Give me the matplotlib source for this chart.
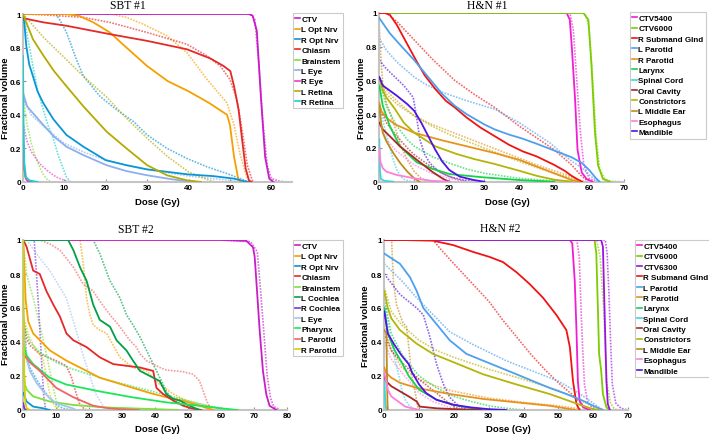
import matplotlib
matplotlib.use("Agg")
import matplotlib.pyplot as plt
from matplotlib.ticker import FuncFormatter
from matplotlib.lines import Line2D

# ---------------- SBT #1 ----------------
sbt1_names = ["CTV", "L Opt Nrv", "R Opt Nrv", "Chiasm", "Brainstem", "L Eye", "R Eye", "L Retina", "R Retina"]
sbt1_colors = ["#c81ec8", "#f5a000", "#0a96d6", "#e62828", "#7ee03c", "#8cb0ee", "#f03cc8", "#b4aa00", "#14d2d2"]
sbt1_solid = {
    "CTV": ([0, 54.5, 55.5, 56.5, 57.5, 58.5, 59.5, 60.5], [1, 1, 0.99, 0.9, 0.5, 0.15, 0.02, 0]),
    "L Opt Nrv": ([0, 10, 13.5, 17, 21, 25, 30, 35, 40, 45, 49.3, 50, 51, 52, 52.6], [1, 1, 0.99, 0.95, 0.89, 0.8, 0.69, 0.6, 0.54, 0.47, 0.4, 0.34, 0.15, 0.02, 0]),
    "R Opt Nrv": ([0, 0.3, 0.8, 1.5, 2.4, 3.5, 4.9, 7.3, 10.5, 14.6, 20, 25, 30, 35, 40, 46, 51, 53.4, 54.5], [1, 0.95, 0.81, 0.7, 0.63, 0.54, 0.47, 0.375, 0.28, 0.21, 0.13, 0.1, 0.075, 0.06, 0.045, 0.035, 0.02, 0.005, 0]),
    "Chiasm": ([0, 5, 10.5, 21, 30, 39.6, 45.3, 48.5, 50.1, 51, 52.1, 53, 53.8, 54.6, 55.2], [0.975, 0.95, 0.93, 0.88, 0.84, 0.79, 0.735, 0.69, 0.66, 0.57, 0.43, 0.24, 0.08, 0.01, 0]),
    "Brainstem": ([0, 0.2, 0.5, 1, 2], [0.2, 0.08, 0.03, 0.01, 0]),
    "L Eye": ([0, 1, 2.4, 4.9, 7.5, 10.5, 14.6, 20.2, 25, 30, 35, 38, 42], [0.53, 0.45, 0.41, 0.34, 0.27, 0.21, 0.16, 0.1, 0.065, 0.04, 0.02, 0.01, 0]),
    "R Eye": ([0, 0.3, 0.7, 1.2, 2.5], [0.3, 0.08, 0.02, 0.005, 0]),
    "L Retina": ([0, 2.4, 5, 7.5, 10.5, 14.6, 20.2, 25, 30, 34.8, 39.6, 43], [1, 0.85, 0.75, 0.66, 0.57, 0.45, 0.3, 0.2, 0.1, 0.04, 0.01, 0]),
    "R Retina": ([0, 0.1, 0.3, 0.7, 1.5, 3.5], [0.75, 0.4, 0.12, 0.03, 0.01, 0]),
}
sbt1_dotted = {
    "CTV": ([0, 55, 56, 57, 58, 59, 60, 62, 63.5], [1, 1, 0.97, 0.7, 0.35, 0.1, 0.02, 0.005, 0]),
    "L Opt Nrv": ([0, 21, 25, 29, 34.8, 39.6, 44.5, 49.3, 51, 52.5, 54.2, 55], [1, 1, 0.98, 0.94, 0.87, 0.77, 0.61, 0.47, 0.34, 0.16, 0.02, 0]),
    "R Opt Nrv": ([0, 8, 9, 10.5, 12.9, 14.6, 18.6, 22.6, 26.7, 30, 34.8, 39.6, 44.5, 49.3, 52.5, 54.5], [1, 1, 0.96, 0.89, 0.73, 0.63, 0.51, 0.43, 0.36, 0.28, 0.2, 0.14, 0.09, 0.05, 0.02, 0]),
    "Chiasm": ([0, 5, 14.5, 21, 30, 39.6, 44.5, 47.7, 50, 51.7, 53, 54.2, 55.4, 56.2], [1, 0.995, 0.98, 0.95, 0.89, 0.82, 0.75, 0.69, 0.61, 0.49, 0.3, 0.1, 0.01, 0]),
    "Brainstem": ([0, 0.5, 1, 2, 3, 4, 5, 6, 7], [0.55, 0.42, 0.34, 0.23, 0.15, 0.09, 0.04, 0.01, 0]),
    "L Eye": ([0, 2, 5, 10, 15, 20, 25, 30, 40, 50, 54], [0.5, 0.4, 0.33, 0.23, 0.175, 0.13, 0.1, 0.075, 0.035, 0.01, 0]),
    "R Eye": ([0, 1, 2, 4, 6, 8, 10, 11.5], [0.35, 0.24, 0.18, 0.11, 0.065, 0.03, 0.01, 0]),
    "L Retina": ([0, 5, 10, 15, 20, 25, 30, 35, 40, 45, 46.5], [1, 0.86, 0.74, 0.62, 0.51, 0.38, 0.26, 0.15, 0.06, 0.01, 0]),
    "R Retina": ([0, 0.5, 1.2, 2.4, 3.5, 4.9, 6, 7.3, 8.5, 9.7, 10.5, 11.5], [1, 0.95, 0.85, 0.69, 0.55, 0.43, 0.34, 0.26, 0.16, 0.08, 0.03, 0]),
}

# ---------------- H&N #1 ----------------
hn1_names = ["CTV5400", "CTV6000", "R Submand Glnd", "L Parotid", "R Parotid", "Larynx", "Spinal Cord", "Oral Cavity", "Constrictors", "L Middle Ear", "Esophagus", "Mandible"]
hn1_colors = ["#f01ed2", "#7ccd00", "#f01414", "#4ea0ee", "#e8921e", "#14d24a", "#3cd6d6", "#a82828", "#b4b40a", "#c08c1e", "#ff7ede", "#5014e6"]
hn1_solid = {
    "CTV5400": ([0, 53.6, 54.5, 55.1, 56, 56.7, 57.9, 59.3, 61], [1, 1, 0.96, 0.79, 0.49, 0.19, 0.055, 0.016, 0]),
    "CTV6000": ([0, 58.4, 59.8, 60.7, 61.7, 62.6, 64, 66], [1, 1, 0.96, 0.69, 0.29, 0.095, 0.016, 0]),
    "R Submand Glnd": ([0, 1.5, 3, 5, 8.4, 10.5, 13, 16, 19, 21.6, 25, 29, 33, 37, 41, 45, 50, 53, 55, 57, 58], [1, 1, 0.99, 0.93, 0.8, 0.72, 0.63, 0.55, 0.48, 0.44, 0.38, 0.32, 0.27, 0.22, 0.18, 0.15, 0.1, 0.065, 0.035, 0.01, 0]),
    "L Parotid": ([0, 3, 6, 10, 14, 18, 21.6, 25, 30, 33, 37, 41, 45, 50, 55, 58, 60, 62, 63], [0.97, 0.88, 0.81, 0.72, 0.62, 0.52, 0.45, 0.4, 0.34, 0.31, 0.28, 0.255, 0.225, 0.185, 0.145, 0.11, 0.07, 0.02, 0]),
    "R Parotid": ([0, 0.5, 2, 4.5, 10, 18, 25, 33, 40, 45, 50, 55, 57], [0.47, 0.42, 0.38, 0.34, 0.29, 0.245, 0.21, 0.17, 0.13, 0.09, 0.05, 0.01, 0]),
    "Larynx": ([0, 1, 3, 5.9, 10.7, 15.4, 20.2, 29.7, 40, 50], [0.57, 0.45, 0.33, 0.21, 0.115, 0.075, 0.045, 0.026, 0.01, 0]),
    "Spinal Cord": ([0, 0.2, 0.5, 1.5, 4], [0.25, 0.06, 0.015, 0.005, 0]),
    "Oral Cavity": ([0, 1, 3, 5.9, 10.7, 15.4, 18.3, 20], [0.35, 0.31, 0.27, 0.21, 0.13, 0.055, 0.016, 0]),
    "Constrictors": ([0, 1, 2, 4.5, 7, 10, 16, 22, 27, 33, 40, 45, 50, 55], [0.62, 0.54, 0.5, 0.43, 0.35, 0.29, 0.21, 0.165, 0.135, 0.105, 0.065, 0.035, 0.012, 0]),
    "L Middle Ear": ([0, 0.5, 1, 2, 4, 6, 8, 10, 11.5], [0.45, 0.35, 0.29, 0.24, 0.17, 0.11, 0.06, 0.02, 0]),
    "Esophagus": ([0, 0.3, 1, 2, 5, 10, 15, 20], [0.2, 0.12, 0.08, 0.06, 0.04, 0.02, 0.005, 0]),
    "Mandible": ([0, 1, 3, 5, 8, 10, 12, 14, 16, 18, 20, 23, 27, 30], [0.62, 0.57, 0.54, 0.51, 0.46, 0.42, 0.35, 0.27, 0.19, 0.12, 0.07, 0.03, 0.01, 0]),
}
hn1_dotted = {
    "CTV5400": ([0, 54.5, 55.5, 56.5, 57.5, 58.5, 60, 62], [1, 1, 0.9, 0.6, 0.3, 0.1, 0.02, 0]),
    "CTV6000": ([0, 58.8, 60, 61, 62, 63, 64.5, 66, 69], [1, 1, 0.92, 0.62, 0.27, 0.08, 0.015, 0.004, 0]),
    "R Submand Glnd": ([0, 2, 5, 10, 15, 21.6, 27, 33, 40, 45, 50, 55, 58, 60], [1, 1, 0.95, 0.84, 0.73, 0.6, 0.52, 0.44, 0.33, 0.26, 0.19, 0.1, 0.03, 0]),
    "L Parotid": ([0, 2, 5, 10, 13, 18, 25, 33, 40, 48.8, 54.5, 58.3, 61.2, 63], [0.85, 0.78, 0.71, 0.62, 0.58, 0.53, 0.48, 0.43, 0.35, 0.23, 0.13, 0.075, 0.02, 0]),
    "R Parotid": ([0, 2, 5, 10, 15, 20, 25, 30, 35, 40, 45, 50, 55, 58, 60], [0.6, 0.52, 0.46, 0.39, 0.34, 0.3, 0.26, 0.22, 0.18, 0.14, 0.1, 0.065, 0.03, 0.005, 0]),
    "Larynx": ([0, 2, 5, 8, 10, 15, 20, 25, 30, 40, 50, 55], [0.6, 0.45, 0.33, 0.25, 0.21, 0.15, 0.11, 0.075, 0.05, 0.02, 0.005, 0]),
    "Spinal Cord": ([0, 1, 2, 3, 4, 5, 6, 7, 8.5, 10], [0.45, 0.36, 0.28, 0.2, 0.13, 0.07, 0.035, 0.015, 0.004, 0]),
    "Oral Cavity": ([0, 2, 5, 8, 10, 14, 18, 22, 25], [0.45, 0.35, 0.27, 0.2, 0.16, 0.1, 0.05, 0.015, 0]),
    "Constrictors": ([0, 3, 6, 10, 15, 20, 25, 30, 35, 40, 45, 50, 55, 58], [0.6, 0.52, 0.46, 0.39, 0.33, 0.28, 0.24, 0.2, 0.16, 0.12, 0.085, 0.05, 0.02, 0]),
    "L Middle Ear": ([0, 0.5, 1, 2, 3, 4, 5, 6, 8, 10, 12, 14], [0.92, 0.72, 0.58, 0.47, 0.41, 0.35, 0.29, 0.22, 0.13, 0.06, 0.02, 0]),
    "Esophagus": ([0, 2, 5, 10, 15, 20, 25], [0.35, 0.25, 0.18, 0.1, 0.05, 0.02, 0]),
    "Mandible": ([0, 2, 5, 7, 9.7, 10.7, 11.6, 13, 14.5, 17, 20, 24, 28], [0.72, 0.67, 0.61, 0.57, 0.5, 0.38, 0.25, 0.16, 0.11, 0.06, 0.03, 0.01, 0]),
}

# ---------------- SBT #2 ----------------
sbt2_names = ["CTV", "L Opt Nrv", "R Opt Nrv", "Chiasm", "Brainstem", "L Cochlea", "R Cochlea", "L Eye", "Pharynx", "L Parotid", "R Parotid"]
sbt2_colors = ["#c81ec8", "#f5a000", "#0a96d6", "#e62828", "#7ee03c", "#00a046", "#7a32e0", "#a6c4f2", "#1ee65a", "#f06464", "#d2d200"]
sbt2_solid = {
    "CTV": ([0, 60, 67.7, 68.7, 69.7, 70.2, 70.7, 71.7, 72.7, 73.7, 74.7, 76.8], [1, 1, 0.995, 0.976, 0.957, 0.9, 0.76, 0.47, 0.23, 0.094, 0.025, 0]),
    "L Opt Nrv": ([0, 0.3, 0.7, 1.5, 3, 8.1, 13.1, 18.2, 23.2, 28.3, 33.3, 38.4, 43.4, 48.5, 53.5, 57.6], [1, 0.85, 0.65, 0.52, 0.45, 0.35, 0.29, 0.24, 0.19, 0.16, 0.13, 0.1, 0.075, 0.055, 0.025, 0]),
    "R Opt Nrv": ([0, 1, 3, 6, 8], [0.1, 0.05, 0.02, 0.01, 0]),
    "Chiasm": ([0, 1, 3, 5, 7, 9.1, 11.1, 13.1, 15.2, 19.2, 23.2, 27.3, 31.3, 35.4, 39.4, 40.4, 42.4, 45.5, 48.5, 51, 54], [1, 0.96, 0.82, 0.8, 0.7, 0.62, 0.55, 0.45, 0.41, 0.37, 0.31, 0.27, 0.26, 0.25, 0.23, 0.13, 0.094, 0.055, 0.025, 0.01, 0]),
    "Brainstem": ([0, 0.5, 1, 3, 8, 15, 25, 40, 47], [0.25, 0.15, 0.12, 0.08, 0.05, 0.03, 0.015, 0.005, 0]),
    "L Cochlea": ([0, 13.6, 15.2, 17.2, 19.2, 21.2, 23.2, 26.3, 28.3, 31.3, 33.3, 35.4, 37.4, 39.4, 41.4, 43.4, 45.5, 47.5, 49.5, 51.5, 53.5], [1, 1, 0.94, 0.84, 0.76, 0.62, 0.53, 0.49, 0.41, 0.35, 0.29, 0.23, 0.21, 0.19, 0.17, 0.094, 0.065, 0.055, 0.035, 0.016, 0]),
    "R Cochlea": ([0, 0.3, 0.8], [0.04, 0.01, 0]),
    "L Eye": ([0, 0.5, 1, 2, 4, 6, 8, 10, 15, 16], [0.5, 0.38, 0.3, 0.23, 0.16, 0.11, 0.07, 0.04, 0.01, 0]),
    "Pharynx": ([0, 1, 3, 8, 13, 18, 23, 33, 43.4, 53.5, 60, 65], [0.39, 0.32, 0.27, 0.19, 0.15, 0.13, 0.11, 0.075, 0.045, 0.025, 0.01, 0]),
    "L Parotid": ([0, 2, 5, 10, 15.2, 21.2, 26, 30, 35], [0.33, 0.28, 0.23, 0.13, 0.075, 0.025, 0.01, 0.004, 0]),
    "R Parotid": ([0, 0.1, 0.3, 0.6, 1, 2], [1, 0.6, 0.2, 0.05, 0.01, 0]),
}
sbt2_dotted = {
    "CTV": ([0, 60, 69, 71, 72, 73, 74, 75, 76, 78], [1, 1, 0.99, 0.93, 0.7, 0.45, 0.2, 0.07, 0.02, 0]),
    "L Opt Nrv": ([0, 17.2, 18.2, 19.2, 20.2, 21.2, 23.2, 25.3, 29.3, 33.3, 37.4, 41.4, 45.5, 49.5, 53.5, 57.6, 59.6], [1, 1, 0.86, 0.66, 0.56, 0.5, 0.47, 0.45, 0.31, 0.25, 0.23, 0.15, 0.094, 0.055, 0.035, 0.016, 0]),
    "R Opt Nrv": ([0, 0.5, 1, 2, 4, 6, 8, 10, 12, 15], [0.6, 0.45, 0.32, 0.25, 0.18, 0.12, 0.07, 0.03, 0.01, 0]),
    "Chiasm": ([0, 1, 2, 5, 10, 13, 14.5, 16, 17, 18.5, 19.5], [0.55, 0.42, 0.38, 0.33, 0.29, 0.26, 0.2, 0.1, 0.04, 0.005, 0]),
    "Brainstem": ([0, 0.5, 1, 3, 5, 7, 9.1, 10.6], [0.95, 0.9, 0.8, 0.66, 0.5, 0.33, 0.13, 0]),
    "L Cochlea": ([0, 21.2, 23.2, 26.3, 29.3, 31.3, 33.3, 35.4, 37.4, 39.4, 41.4, 43.4, 45.5, 49.5, 51.5], [1, 1, 0.92, 0.76, 0.66, 0.56, 0.5, 0.43, 0.35, 0.27, 0.19, 0.11, 0.055, 0.025, 0]),
    "R Cochlea": ([0, 3.3, 4, 4.8, 5.5, 6.2, 6.8], [1, 1, 0.8, 0.55, 0.3, 0.08, 0]),
    "L Eye": ([0, 1, 4, 8, 13, 16, 18, 20, 22, 25], [1, 1, 0.92, 0.82, 0.66, 0.47, 0.33, 0.21, 0.094, 0]),
    "Pharynx": ([0, 2, 5, 10, 15, 20, 25, 30, 35, 40, 45, 50, 55, 60, 62], [0.5, 0.4, 0.34, 0.28, 0.24, 0.21, 0.18, 0.155, 0.13, 0.105, 0.08, 0.055, 0.03, 0.01, 0]),
    "L Parotid": ([0, 5, 8.1, 11.1, 15.2, 18.2, 21.2, 23.2, 26.3, 29.3, 32.3, 34.3, 35.4, 37.4, 39.4, 41.4, 43.4, 48.5, 51.5, 53.5, 55.6, 56.6, 57.6], [1, 1, 0.976, 0.94, 0.84, 0.74, 0.7, 0.64, 0.56, 0.49, 0.41, 0.37, 0.33, 0.29, 0.27, 0.25, 0.235, 0.225, 0.21, 0.17, 0.055, 0.016, 0]),
    "R Parotid": ([0, 2, 4, 6, 7, 8, 9, 10, 11], [0.55, 0.42, 0.35, 0.3, 0.2, 0.1, 0.04, 0.01, 0]),
}

# ---------------- H&N #2 ----------------
hn2_names = ["CTV5400", "CTV6000", "CTV6300", "R Submand Glnd", "L Parotid", "R Parotid", "Larynx", "Spinal Cord", "Oral Cavity", "Constrictors", "L Middle Ear", "Esophagus", "Mandible"]
hn2_colors = ["#f01ed2", "#7ccd00", "#a010e0", "#f01414", "#4ea0ee", "#e8921e", "#14d24a", "#3cd6d6", "#a82828", "#b4b40a", "#c08c1e", "#ff7ede", "#5014e6"]
hn2_solid = {
    "CTV5400": ([0, 53.3, 54, 54.7, 55.2, 55.6, 56.1, 57.1, 59], [1, 1, 0.98, 0.76, 0.47, 0.17, 0.055, 0.016, 0]),
    "CTV6000": ([0, 60.4, 60.9, 61.4, 61.7, 62.3, 62.8, 63.8, 64.7], [1, 1, 0.92, 0.56, 0.33, 0.23, 0.094, 0.016, 0]),
    "CTV6300": ([0, 62.3, 62.8, 63.3, 63.8, 64.2, 64.8], [1, 1, 0.96, 0.56, 0.17, 0.035, 0]),
    "R Submand Glnd": ([0, 5, 14, 19.8, 25.5, 30.3, 34.1, 38, 41.8, 45.6, 49.4, 52.3, 53.3, 54.2, 55.2, 56.1], [1, 1, 0.996, 0.97, 0.93, 0.9, 0.87, 0.81, 0.74, 0.66, 0.56, 0.47, 0.37, 0.17, 0.035, 0]),
    "L Parotid": ([0, 4.5, 7.4, 9.3, 11.2, 14, 18.8, 23.6, 28.4, 33.2, 38, 42.7, 47.5, 52.3, 57, 60, 62.8], [0.92, 0.86, 0.78, 0.7, 0.6, 0.53, 0.41, 0.33, 0.29, 0.25, 0.21, 0.17, 0.13, 0.094, 0.055, 0.025, 0]),
    "R Parotid": ([0, 0.5, 2, 4.5, 9.3, 18.8, 28.4, 38, 47.5, 53.3, 55], [0.25, 0.22, 0.19, 0.16, 0.13, 0.094, 0.065, 0.045, 0.025, 0.006, 0]),
    "Larynx": ([0, 1, 3, 5, 7, 10, 15, 20, 25, 30], [0.6, 0.45, 0.35, 0.28, 0.2, 0.12, 0.06, 0.03, 0.01, 0]),
    "Spinal Cord": ([0, 0.2, 0.4, 0.7], [0.22, 0.08, 0.02, 0]),
    "Oral Cavity": ([0, 0.5, 2, 4.5, 7, 9.3, 10.2, 15, 20, 28], [0.2, 0.17, 0.14, 0.11, 0.08, 0.05, 0.02, 0.01, 0.005, 0]),
    "Constrictors": ([0, 1, 2, 4.5, 9.3, 14, 18.8, 28.4, 38, 47.5, 57, 60, 62], [0.7, 0.6, 0.54, 0.47, 0.39, 0.33, 0.29, 0.21, 0.15, 0.094, 0.025, 0.005, 0]),
    "L Middle Ear": ([0, 0.6, 0.75, 0.9, 1.0], [0.47, 0.45, 0.25, 0.05, 0]),
    "Esophagus": ([0, 1, 2, 4, 6, 8, 10], [0.22, 0.12, 0.08, 0.05, 0.02, 0.01, 0]),
    "Mandible": ([0, 1, 3, 5, 7, 8, 10, 12, 15, 20, 25, 30, 35], [0.58, 0.45, 0.38, 0.32, 0.27, 0.22, 0.15, 0.1, 0.06, 0.03, 0.015, 0.005, 0]),
}
hn2_dotted = {
    "CTV5400": ([0, 55.3, 56, 56.5, 57, 57.5, 58.5, 60, 61], [1, 1, 0.9, 0.6, 0.35, 0.15, 0.04, 0.01, 0]),
    "CTV6000": ([0, 61, 62, 63, 63.5, 64, 65, 66, 67], [1, 1, 0.9, 0.6, 0.35, 0.15, 0.04, 0.01, 0]),
    "CTV6300": ([0, 63.5, 64, 64.5, 65, 65.5, 66.5, 68, 70], [1, 1, 0.92, 0.7, 0.4, 0.15, 0.04, 0.01, 0]),
    "R Submand Glnd": ([0, 14, 16, 20, 25, 30, 34, 38, 42, 46, 50, 54, 56, 58, 59], [1, 1, 0.95, 0.86, 0.75, 0.64, 0.53, 0.43, 0.33, 0.24, 0.16, 0.09, 0.05, 0.01, 0]),
    "L Parotid": ([0, 5, 9.3, 15, 18.8, 25, 30, 35, 40, 45, 50, 55, 58, 60, 62, 63], [0.86, 0.76, 0.66, 0.54, 0.46, 0.39, 0.34, 0.29, 0.25, 0.21, 0.17, 0.11, 0.07, 0.04, 0.01, 0]),
    "R Parotid": ([0, 2, 5, 10, 15, 20, 30, 40, 50, 55, 58], [0.5, 0.35, 0.25, 0.18, 0.14, 0.11, 0.07, 0.045, 0.025, 0.01, 0]),
    "Larynx": ([0, 2, 5, 8, 10, 15, 20, 25, 30, 35, 40], [0.65, 0.45, 0.33, 0.25, 0.2, 0.13, 0.08, 0.05, 0.025, 0.01, 0]),
    "Spinal Cord": ([0, 1, 2, 3, 4, 5, 6, 7, 8, 10], [0.65, 0.5, 0.4, 0.3, 0.22, 0.12, 0.06, 0.03, 0.01, 0]),
    "Oral Cavity": ([0, 2, 5, 8, 10, 15, 18, 20, 22], [0.45, 0.35, 0.28, 0.22, 0.18, 0.1, 0.05, 0.02, 0]),
    "Constrictors": ([0, 2, 5, 10, 15, 20, 30, 40, 50, 55, 60, 63], [0.72, 0.58, 0.5, 0.41, 0.35, 0.31, 0.24, 0.18, 0.115, 0.07, 0.02, 0]),
    "L Middle Ear": ([0, 2.1, 2.6, 3.5, 4.5, 5.4, 6.4, 6.9, 7.8, 8.8, 9.3, 9.8], [1, 1, 0.76, 0.62, 0.56, 0.51, 0.49, 0.4, 0.21, 0.11, 0.055, 0]),
    "Esophagus": ([0, 2, 5, 8, 10, 14, 18, 22], [0.4, 0.3, 0.22, 0.15, 0.1, 0.05, 0.02, 0]),
    "Mandible": ([0, 4.5, 9.3, 11.2, 13.1, 15, 17, 18.8, 21.7, 24], [0.8, 0.68, 0.6, 0.56, 0.43, 0.27, 0.15, 0.075, 0.016, 0]),
}

W, H = 709.0, 435.0
panels = [
    # title, names, colors, solid, dotted, xmax, xticks, axes box (px: left, top, right, bottom),
    # title centre (px), ylabel centre (px), xlabel centre (px), legend top-left (px)
    ("SBT #1", sbt1_names, sbt1_colors, sbt1_solid, sbt1_dotted, 65, [0, 10, 20, 30, 40, 50, 60],
     (23, 15, 292, 183), (128, 6), (6, 98), (157, 203), (293, 14)),
    ("H&N #1", hn1_names, hn1_colors, hn1_solid, hn1_dotted, 70, [0, 10, 20, 30, 40, 50, 60, 70],
     (379.3, 14, 624, 182.7), (487, 6), (361, 98), (507, 203), (630, 13)),
    ("SBT #2", sbt2_names, sbt2_colors, sbt2_solid, sbt2_dotted, 80, [0, 10, 20, 30, 40, 50, 60, 70, 80],
     (23.3, 241, 287, 411), (136, 230), (6, 324), (157, 430), (293, 241)),
    ("H&N #2", hn2_names, hn2_colors, hn2_solid, hn2_dotted, 70, [0, 10, 20, 30, 40, 50, 60, 70],
     (384.3, 241, 628, 411), (500, 229), (365, 326), (508, 430), (635, 241)),
]

fig = plt.figure(figsize=(7.09, 4.35), dpi=100)
fmt = FuncFormatter(lambda v, p: ("%g" % v))
axis_gray = "#c4c4c4"
sans = "Liberation Sans"


def fx(px):
    return px / W


def fy(py):
    return 1 - py / H


for (title, names, colors, solid, dotted, xmax, xticks, box, tpos, ylpos, xlpos, lpos) in panels:
    l, t, r, b = box
    ax = fig.add_axes([fx(l), fy(b), (r - l) / W, (b - t) / H])
    for name, col in zip(names, colors):
        d, v = dotted[name]
        ax.plot(d, v, color=col, lw=1.2, ls=(0, (1, 0.8)), alpha=0.65, zorder=2)
    for name, col in zip(names, colors):
        d, v = solid[name]
        ax.plot(d, v, color=col, lw=1.3, zorder=3)
    ax.set_xlim(0, xmax)
    ax.set_ylim(0, 1)
    ax.set_xticks(xticks)
    ax.set_yticks([0, 0.2, 0.4, 0.6, 0.8, 1])
    ax.xaxis.set_major_formatter(fmt)
    ax.yaxis.set_major_formatter(fmt)
    for s in ["top", "right"]:
        ax.spines[s].set_visible(False)
    for s in ["left", "bottom"]:
        ax.spines[s].set_color(axis_gray)
        ax.spines[s].set_linewidth(1.5)
    ax.tick_params(direction="in", length=2.5, width=0.8, color="#909090", labelsize=5.8, pad=1.5)
    for lab in ax.get_xticklabels() + ax.get_yticklabels():
        lab.set_fontweight("bold")
        lab.set_family(sans)
    ax.patch.set_alpha(0)

    fig.text(fx(tpos[0]), fy(tpos[1]), title, ha="center", va="center",
             fontsize=8.4, family="Liberation Serif")
    fig.text(fx(ylpos[0]), fy(ylpos[1]), "Fractional volume", ha="center", va="center",
             rotation=90, fontsize=6.8, fontweight="bold", family=sans)
    fig.text(fx(xlpos[0]), fy(xlpos[1]), "Dose (Gy)", ha="center", va="center",
             fontsize=6.8, fontweight="bold", family=sans)

    handles = [Line2D([0], [0], color=c, lw=1.2) for c in colors]
    leg = fig.legend(handles, names, loc="upper left", bbox_to_anchor=(fx(lpos[0]), fy(lpos[1])),
                     bbox_transform=fig.transFigure, borderaxespad=0, frameon=True,
                     fancybox=False, edgecolor="#bdbdbd", handlelength=0.6, handletextpad=0.15,
                     labelspacing=0.34, borderpad=0.3,
                     prop={"family": sans, "weight": "bold", "size": 5.8})
    leg.get_frame().set_linewidth(0.8)

fig.savefig("out.png", dpi=100)
